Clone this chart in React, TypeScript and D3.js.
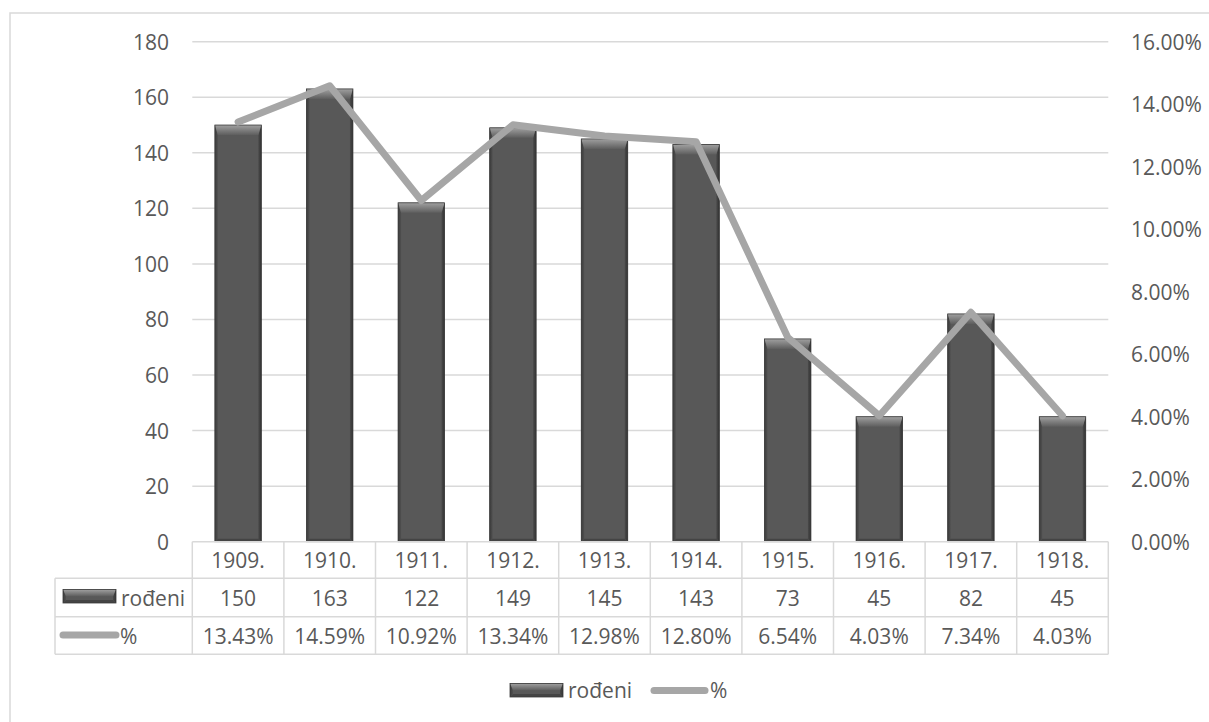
import React from "react";
import * as d3 from "d3";

const years = ["1909.", "1910.", "1911.", "1912.", "1913.", "1914.", "1915.", "1916.", "1917.", "1918."];
const rodjeni = [150, 163, 122, 149, 145, 143, 73, 45, 82, 45];
const percent = [13.43, 14.59, 10.92, 13.34, 12.98, 12.8, 6.54, 4.03, 7.34, 4.03];
const leftTicks = [0, 20, 40, 60, 80, 100, 120, 140, 160, 180];
const rightTicks = [0, 2, 4, 6, 8, 10, 12, 14, 16];
const seriesNames = ["rođeni", "%"];

const W = 1209;
const H = 722;
const plotL = 192.3;
const plotR = 1108.3;
const plotT = 41.7;
const plotB = 541.7;
const FONT = "'Open Sans', 'Noto Sans', sans-serif";
const TXT = "#595959";
const GRID = "#d9d9d9";
const LINE = "#a6a6a6";

function BevelBar({ x, y, w, h }: { x: number; y: number; w: number; h: number }) {
  const s = 3; // side bevel
  const t = Math.min(10, h / 2); // top bevel
  const b = Math.min(3, h / 2);
  const x1 = x + w;
  const y1 = y + h;
  return (
    <g>
      <rect x={x} y={y} width={w} height={h} fill="#585858" />
      {/* left facet */}
      <polygon points={`${x},${y} ${x + s},${y + t} ${x + s},${y1 - b} ${x},${y1}`} fill="url(#leftFacet)" />
      {/* right facet */}
      <polygon points={`${x1},${y} ${x1 - s},${y + t} ${x1 - s},${y1 - b} ${x1},${y1}`} fill="url(#rightFacet)" />
      {/* bottom facet */}
      <polygon points={`${x},${y1} ${x + s},${y1 - b} ${x1 - s},${y1 - b} ${x1},${y1}`} fill="#444444" />
      {/* top facet */}
      <polygon points={`${x},${y} ${x1},${y} ${x1 - s},${y + t} ${x + s},${y + t}`} fill="url(#topFacet)" />
      <rect x={x} y={y} width={w} height={h} fill="none" stroke="#3a3a3a" strokeWidth={0.8} />
    </g>
  );
}

export default function App() {
  const x = d3.scaleBand<string>().domain(years).range([plotL, plotR]).paddingInner(0).paddingOuter(0);
  const yL = d3.scaleLinear().domain([0, 180]).range([plotB, plotT]);
  const yR = d3.scaleLinear().domain([0, 16]).range([plotB, plotT]);
  const bw = x.bandwidth();
  const barW = bw * 0.507;

  const line = d3
    .line<number>()
    .x((_, i) => (x(years[i]) as number) + bw / 2)
    .y((d) => yR(d));

  const rowTop = [541.7, 578.3, 616.7, 654.3];
  const tableLeft = 55;

  return (
    <svg
      width={W}
      height={H}
      viewBox={`0 0 ${W} ${H}`}
      style={{ position: "absolute", left: 0, top: 0, background: "#fff" }}
      fontFamily={FONT}
    >
      <defs>
        <linearGradient id="topFacet" x1="0" y1="0" x2="0" y2="1">
          <stop offset="0%" stopColor="#a0a0a0" />
          <stop offset="100%" stopColor="#5e5e5e" />
        </linearGradient>
        <linearGradient id="leftFacet" x1="0" y1="0" x2="1" y2="0">
          <stop offset="0%" stopColor="#3c3c3c" />
          <stop offset="100%" stopColor="#505050" />
        </linearGradient>
        <linearGradient id="rightFacet" x1="0" y1="0" x2="1" y2="0">
          <stop offset="0%" stopColor="#4a4a4a" />
          <stop offset="100%" stopColor="#333333" />
        </linearGradient>
      </defs>
      <rect x={0} y={0} width={W} height={H} fill="#fff" />
      {/* chart frame */}
      <rect x={10} y={13} width={W + 20} height={H + 20} fill="none" stroke={GRID} strokeWidth={1.5} />

      {/* gridlines */}
      {leftTicks.slice(1).map((t) => (
        <line key={t} x1={plotL} x2={plotR} y1={yL(t)} y2={yL(t)} stroke={GRID} strokeWidth={1.5} />
      ))}

      {/* left axis labels */}
      {leftTicks.map((t) => (
        <text key={t} x={169} y={yL(t)} textAnchor="end" dominantBaseline="central" fontSize={21} fill={TXT}>
          {t}
        </text>
      ))}
      {/* right axis labels */}
      {rightTicks.map((t) => (
        <text key={t} x={1131} y={yR(t)} textAnchor="start" dominantBaseline="central" fontSize={21} fill={TXT}>
          {t.toFixed(2)}%
        </text>
      ))}

      {/* bars */}
      {rodjeni.map((v, i) => {
        const cx = (x(years[i]) as number) + bw / 2;
        return <BevelBar key={i} x={cx - barW / 2} y={yL(v)} w={barW} h={plotB - yL(v)} />;
      })}

      {/* line */}
      <path
        d={line(percent) || ""}
        fill="none"
        stroke={LINE}
        strokeWidth={7}
        strokeLinejoin="round"
        strokeLinecap="round"
      />

      {/* data table */}
      <g stroke={GRID} strokeWidth={1.5} fill="none">
        <line x1={plotL} x2={plotR} y1={rowTop[0]} y2={rowTop[0]} />
        <line x1={tableLeft} x2={plotR} y1={rowTop[1]} y2={rowTop[1]} />
        <line x1={tableLeft} x2={plotR} y1={rowTop[2]} y2={rowTop[2]} />
        <line x1={tableLeft} x2={plotR} y1={rowTop[3]} y2={rowTop[3]} />
        <line x1={tableLeft} x2={tableLeft} y1={rowTop[1]} y2={rowTop[3]} />
        {years.map((yr, i) => (
          <line key={yr} x1={x(yr) as number} x2={x(yr) as number} y1={rowTop[0]} y2={rowTop[3]} />
        ))}
        <line x1={plotR} x2={plotR} y1={rowTop[0]} y2={rowTop[3]} />
      </g>
      {years.map((yr, i) => {
        const cx = (x(yr) as number) + bw / 2;
        return (
          <g key={yr} fontSize={21} fill={TXT} textAnchor="middle">
            <text x={cx} y={(rowTop[0] + rowTop[1]) / 2} dominantBaseline="central">
              {yr}
            </text>
            <text x={cx} y={(rowTop[1] + rowTop[2]) / 2} dominantBaseline="central">
              {rodjeni[i]}
            </text>
            <text x={cx} y={(rowTop[2] + rowTop[3]) / 2} dominantBaseline="central">
              {percent[i].toFixed(2)}%
            </text>
          </g>
        );
      })}
      {/* table legend keys */}
      <BevelBar x={63} y={589.5} w={53} h={13.5} />
      <text x={121} y={(rowTop[1] + rowTop[2]) / 2} dominantBaseline="central" fontSize={21} fill={TXT}>
        {seriesNames[0]}
      </text>
      <line x1={63} x2={116} y1={635} y2={635} stroke={LINE} strokeWidth={7} strokeLinecap="round" />
      <text x={120} y={(rowTop[2] + rowTop[3]) / 2} dominantBaseline="central" fontSize={21} fill={TXT}>
        {seriesNames[1]}
      </text>

      {/* bottom legend */}
      <BevelBar x={510} y={683.5} w={53} h={13.5} />
      <text x={568} y={690} dominantBaseline="central" fontSize={21} fill={TXT}>
        {seriesNames[0]}
      </text>
      <line x1={654} x2={705} y1={690.5} y2={690.5} stroke={LINE} strokeWidth={7} strokeLinecap="round" />
      <text x={710} y={690} dominantBaseline="central" fontSize={21} fill={TXT}>
        {seriesNames[1]}
      </text>
    </svg>
  );
}
